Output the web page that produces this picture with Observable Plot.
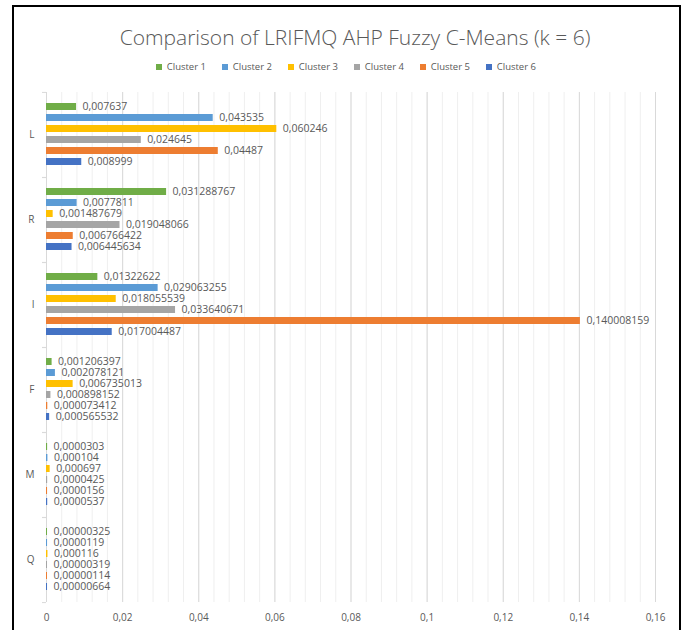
<!DOCTYPE html>
<html><head><meta charset="utf-8">
<script src="https://cdn.jsdelivr.net/npm/d3@7"></script>
<script src="https://cdn.jsdelivr.net/npm/@observablehq/plot@0.6"></script>
<style>
html,body{margin:0;padding:0;background:#fff;overflow:hidden;width:683px;height:630px;font-family:"Open Sans",sans-serif}
#chart{position:absolute;left:0;top:80px}
#title{position:absolute;left:0;top:22px;width:710px;text-align:center;font-size:21px;font-weight:300;color:#595959;line-height:30px;white-space:nowrap}
#legend{position:absolute;left:0;top:60px;width:708px;display:flex;justify-content:center}
#legend .lg-swatches{justify-content:center;margin:0 !important;min-height:0 !important}
#legend .lg-swatch{margin-right:16px !important}
#frame{position:absolute;left:12px;top:5px;width:669px;height:700px;border:2px solid #000;box-sizing:border-box;pointer-events:none}
</style></head><body>
<div id="chart"></div>
<div id="title">Comparison of LRIFMQ AHP Fuzzy C-Means (k = 6)</div>
<div id="legend"></div>
<div id="frame"></div>
<script>
const categories = ["L", "R", "I", "F", "M", "Q"];
const clusters = ["Cluster 1", "Cluster 2", "Cluster 3", "Cluster 4", "Cluster 5", "Cluster 6"];
const colors = ["#70AD47", "#5B9BD5", "#FFC000", "#A5A5A5", "#ED7D31", "#4472C4"];
// values per cluster, in category order L, R, I, F, M, Q
const cluster1 = [0.007637, 0.031288767, 0.01322622, 0.001206397, 0.0000303, 0.00000325];
const cluster2 = [0.043535, 0.0077811, 0.029063255, 0.002078121, 0.000104, 0.0000119];
const cluster3 = [0.060246, 0.001487679, 0.018055539, 0.006735013, 0.000697, 0.000116];
const cluster4 = [0.024645, 0.019048066, 0.033640671, 0.000898152, 0.0000425, 0.00000319];
const cluster5 = [0.04487, 0.006766422, 0.140008159, 0.000073412, 0.0000156, 0.00000114];
const cluster6 = [0.008999, 0.006445634, 0.017004487, 0.000565532, 0.0000537, 0.00000664];
const xTicks = [0, 0.02, 0.04, 0.06, 0.08, 0.1, 0.12, 0.14, 0.16];
const xTickLabels = ["0", "0,02", "0,04", "0,06", "0,08", "0,1", "0,12", "0,14", "0,16"];

const series = [cluster1, cluster2, cluster3, cluster4, cluster5, cluster6];
const rows = [];
series.forEach((s, j) => s.forEach((v, i) => rows.push({
  category: categories[i], cluster: clusters[j], value: v, label: String(v).replace(".", ",")
})));
const minorTicks = d3.range(0, 0.16 + 1e-9, 0.004);

const halfBand = (602 - 91) / 6 / 2;

const chart = Plot.plot({
  width: 683, height: 552,
  marginTop: 11, marginBottom: 30, marginLeft: 46, marginRight: 28,
  style: {fontFamily: "Open Sans", fontSize: "10px", color: "#595959", background: "transparent"},
  x: {domain: [0, 0.16], axis: null},
  y: {domain: clusters, axis: null, paddingInner: 0.33, paddingOuter: 0.84},
  fy: {domain: categories, padding: 0, axis: null},
  color: {domain: clusters, range: colors},
  marks: [
    Plot.gridX(minorTicks, {stroke: "#efefef", strokeOpacity: 1}),
    Plot.gridX(xTicks, {stroke: "#d9d9d9", strokeOpacity: 1}),
    Plot.ruleX([0], {stroke: "#d9d9d9"}),
    Plot.axisX(xTicks, {anchor: "bottom", tickSize: 0, tickPadding: 11, label: null,
      tickFormat: d => xTickLabels[xTicks.indexOf(d)], fill: "#595959", fontSize: 10}),
    Plot.axisFy({anchor: "left", tickSize: 0, tickPadding: 12, label: null, fill: "#595959", fontSize: 10}),
    Plot.axisFy({anchor: "left", tickSize: 4, fill: "none", label: null, stroke: "#d9d9d9", dy: -halfBand}),
    Plot.axisFy({anchor: "left", tickSize: 4, fill: "none", label: null, stroke: "#d9d9d9", dy: halfBand}),
    Plot.barX(rows, {fy: "category", y: "cluster", x: "value", fill: "cluster", insetRight: -1}),
    Plot.text(rows, {fy: "category", y: "cluster", x: "value", text: "label",
      textAnchor: "start", dx: 7, fill: "#595959", fontSize: 10.5})
  ]
});
document.getElementById("chart").appendChild(chart);

const legend = Plot.legend({
  color: {type: "ordinal", domain: clusters, range: colors},
  swatchSize: 6, className: "lg",
  style: {fontFamily: "Open Sans", fontSize: "9.5px", color: "#595959"}
});
document.getElementById("legend").appendChild(legend);
</script>
</body></html>
